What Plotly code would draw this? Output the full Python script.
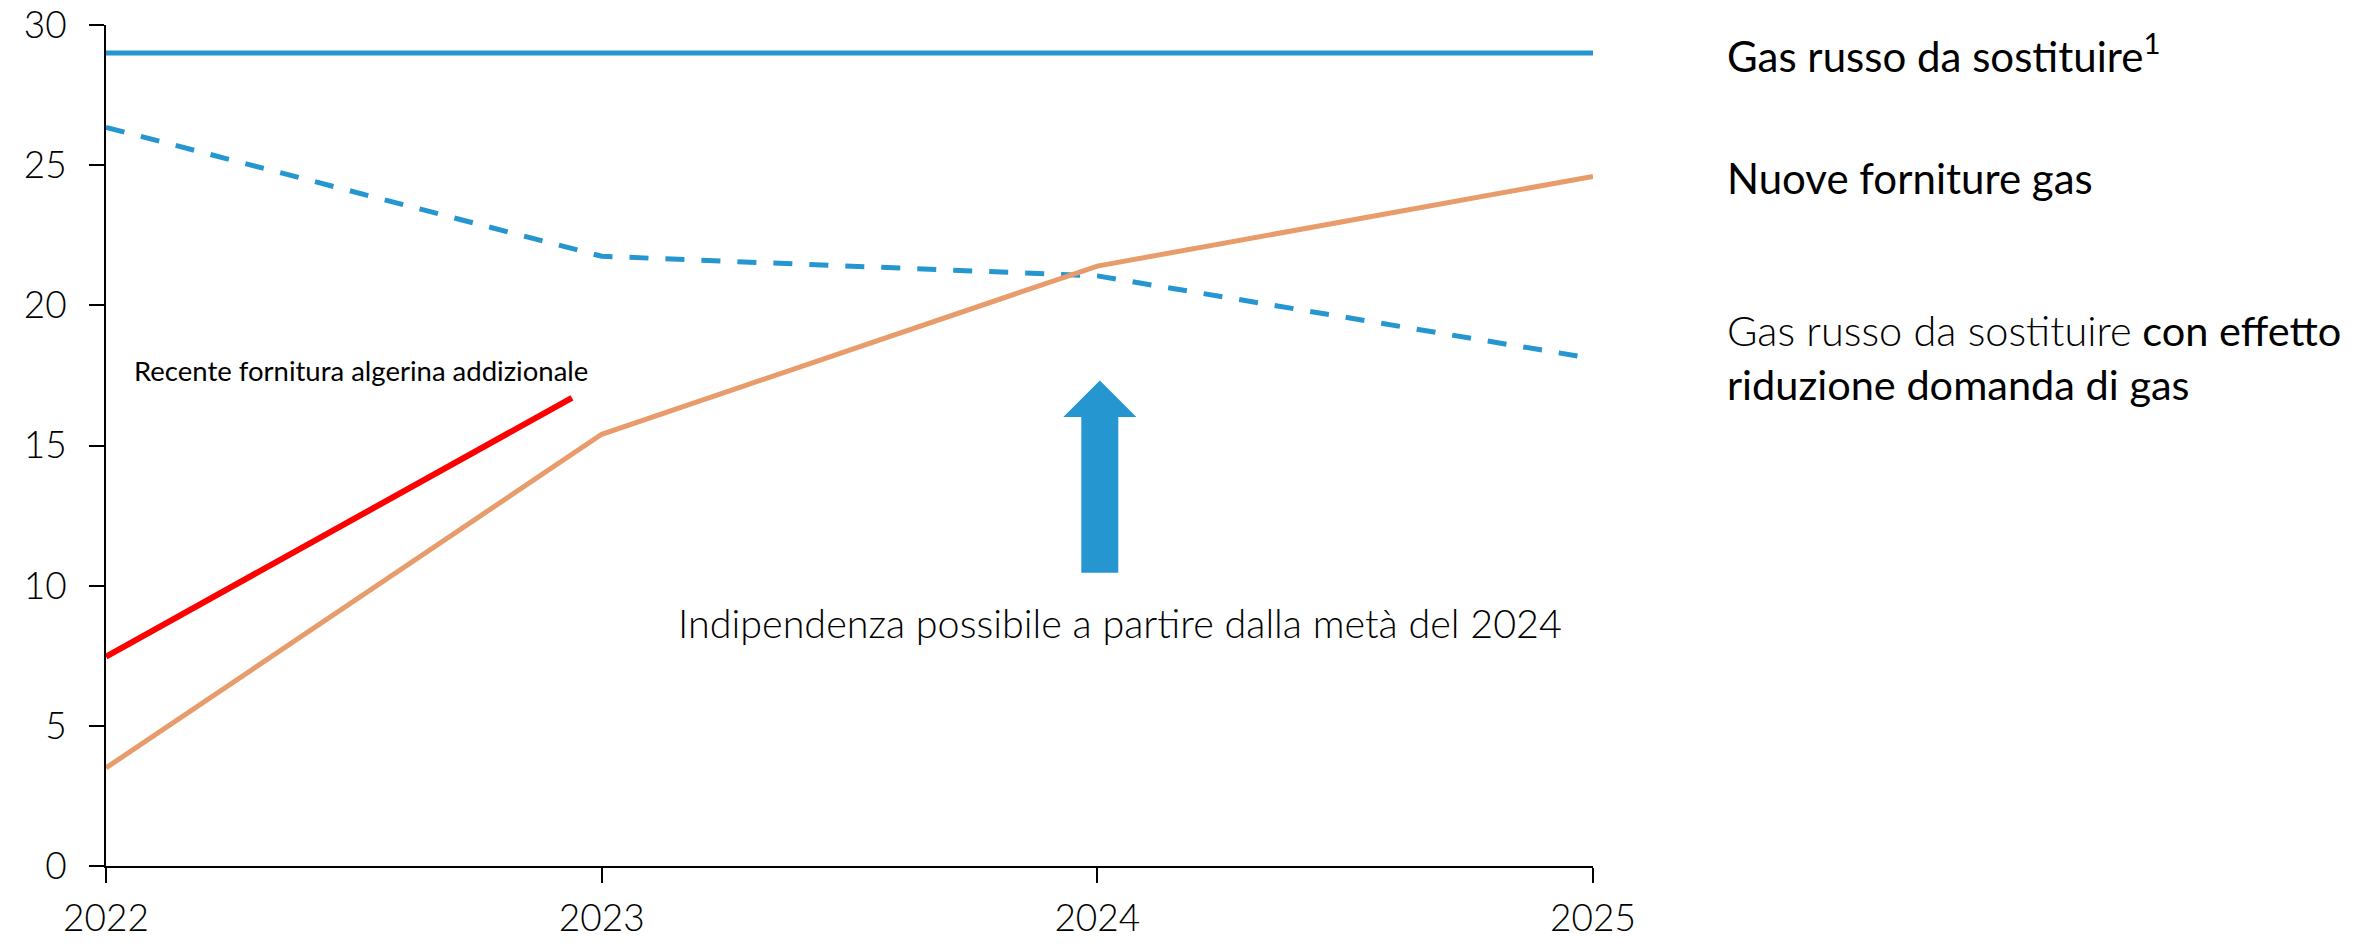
import plotly.graph_objects as go

# Dati (miliardi di m3)
anni = [2022, 2023, 2024, 2025]
gas_russo = [29, 29, 29, 29]
gas_russo_ridotto = [26.35, 21.75, 21.05, 18.1]
nuove_forniture = [3.5, 15.4, 21.4, 24.6]

algeria_x = [2022, 2022.94]
algeria_y = [7.47, 16.7]

y_ticks = [0, 5, 10, 15, 20, 25, 30]

BLU = "#2596CF"
ARANCIO = "#E99C6B"
ROSSO = "#FF0000"
FONT = "Lato"

fig = go.Figure()

fig.add_trace(go.Scatter(
    x=anni, y=gas_russo, mode="lines",
    line=dict(color=BLU, width=5),
    name="Gas russo da sostituire"
))
fig.add_trace(go.Scatter(
    x=anni, y=gas_russo_ridotto, mode="lines",
    line=dict(color=BLU, width=5, dash="19px,17px"),
    name="Gas russo ridotto"
))
fig.add_trace(go.Scatter(
    x=anni, y=nuove_forniture, mode="lines",
    line=dict(color=ARANCIO, width=5),
    name="Nuove forniture gas"
))
fig.add_trace(go.Scatter(
    x=algeria_x, y=algeria_y, mode="lines",
    line=dict(color=ROSSO, width=6),
    name="Algeria"
))

# freccia blu (in coordinate dati)
ax_x, base, collo, punta = 2024.005, 10.46, 16.02, 17.32
mezzo_fusto, mezza_testa = 0.0373, 0.0737
freccia = (
    f"M {ax_x - mezzo_fusto},{base} L {ax_x + mezzo_fusto},{base} "
    f"L {ax_x + mezzo_fusto},{collo} L {ax_x + mezza_testa},{collo} "
    f"L {ax_x},{punta} L {ax_x - mezza_testa},{collo} "
    f"L {ax_x - mezzo_fusto},{collo} Z"
)
fig.add_shape(type="path", path=freccia, xref="x", yref="y",
              fillcolor=BLU, line=dict(width=0))

etichette = [
    dict(x=2022.052, y=17.67, xref="x", yref="y", xanchor="left",
         text="Recente fornitura algerina addizionale",
         font=dict(size=27.5, family=FONT, color="black")),
    dict(x=2023.15, y=8.68, xref="x", yref="y", xanchor="left",
         text="Indipendenza possibile a partire dalla metà del 2024",
         font=dict(size=39.5, family=FONT, color="black", weight=300)),
    dict(x=1.0888, y=29.0, xref="paper", yref="y", xanchor="left",
         text="Gas russo da sostituire<sup>1</sup>",
         font=dict(size=42, family=FONT, color="black")),
    dict(x=1.0888, y=24.56, xref="paper", yref="y", xanchor="left",
         text="Nuove forniture gas",
         font=dict(size=42, family=FONT, color="black")),
    dict(x=1.0888, y=18.14, xref="paper", yref="y", xanchor="left", align="left",
         text="<span style='font-weight:300'>Gas russo da sostituire</span> con effetto"
              "<br>riduzione domanda di gas",
         font=dict(size=41.5, family=FONT, color="black")),
]
for a in etichette:
    fig.add_annotation(showarrow=False, **a)

# la pagina aggiunge 8px di margine: figura un po' più piccola della finestra
fig.update_layout(
    width=2364, height=936,
    margin=dict(l=98, r=779, t=17, b=78, autoexpand=False),
    plot_bgcolor="white", paper_bgcolor="white",
    showlegend=False,
    font=dict(family=FONT, color="black"),
)
fig.update_xaxes(
    range=[2022, 2025], tickvals=anni, ticktext=[str(a) for a in anni],
    showgrid=False, zeroline=False, automargin=False,
    showline=True, linecolor="black", linewidth=2,
    ticks="outside", ticklen=15, tickwidth=2, tickcolor="black",
    tickfont=dict(size=37, family=FONT, weight=300),
    ticklabelstandoff=4,
)
fig.update_yaxes(
    range=[0, 30], tickvals=y_ticks,
    showgrid=False, zeroline=False, automargin=False,
    showline=True, linecolor="black", linewidth=2,
    ticks="outside", ticklen=15, tickwidth=2, tickcolor="black",
    tickfont=dict(size=37, family=FONT, weight=300),
    ticklabelstandoff=15, ticklabeloverflow="allow",
)

fig.write_html("out.html")
